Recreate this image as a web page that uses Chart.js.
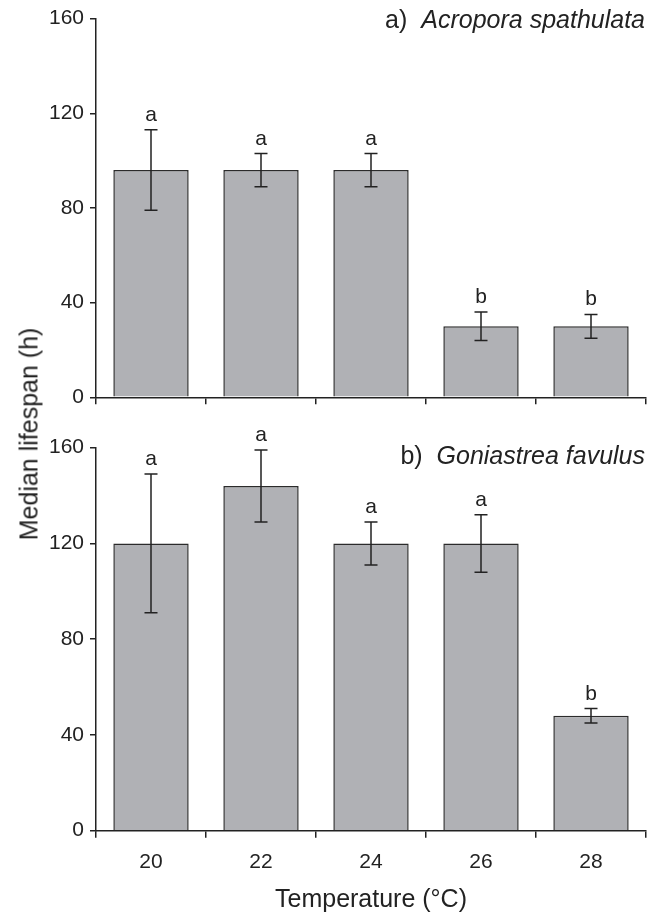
<!DOCTYPE html>
<html>
<head>
<meta charset="utf-8">
<script src="https://cdn.jsdelivr.net/npm/chart.js@4/dist/chart.umd.min.js"></script>
<style>
    body { margin: 0; background: #fff; }
    #wrap { position: relative; width: 656px; height: 918px; }
    canvas { position: absolute; left: 0; }
    #ytitle {
        position: absolute; left: 29px; top: 434px;
        transform: translate(-50%, -50%) rotate(-90deg);
        font: 25px "Liberation Sans", Arial, Helvetica, sans-serif;
        color: #222; white-space: nowrap;
    }
</style>
</head>
<body>
<div id="wrap">
    <canvas id="topChart" width="656" height="420" style="top:0"></canvas>
    <canvas id="bottomChart" width="656" height="498" style="top:420px"></canvas>
    <div id="ytitle">Median lifespan (h)</div>
</div>
<script>
// temperatures (x categories)
const temps = ["20", "22", "24", "26", "28"];
const yTicks = [0, 40, 80, 120, 160];

// a) Acropora spathulata
const spathulataMedian = [96, 96, 96, 30, 30];
const spathulataUpper = [113, 103, 103, 36, 35];
const spathulataLower = [79, 89, 89, 24, 25];
const spathulataGroups = ["a", "a", "a", "b", "b"];

// b) Goniastrea favulus
const favulusMedian = [120, 144, 120, 120, 48];
const favulusUpper = [149, 159, 129, 132, 51];
const favulusLower = [91, 129, 111, 108, 45];
const favulusGroups = ["a", "a", "a", "a", "b"];

const FONT = '"Liberation Sans", Arial, Helvetica, sans-serif';
const INK = "#222222";

// error bars + significance letters, drawn from the y scale
function errorBarPlugin(upper, lower, groups) {
    return {
        id: "errorBars",
        afterDatasetsDraw(chart) {
            const ctx = chart.ctx;
            const y = chart.scales.y;
            const bars = chart.getDatasetMeta(0).data;
            ctx.save();
            ctx.strokeStyle = INK;
            ctx.fillStyle = INK;
            ctx.lineWidth = 1.5;
            ctx.font = "21px " + FONT;
            ctx.textAlign = "center";
            ctx.textBaseline = "alphabetic";
            bars.forEach((bar, i) => {
                const top = y.getPixelForValue(upper[i]);
                const bottom = y.getPixelForValue(lower[i]);
                ctx.beginPath();
                ctx.moveTo(bar.x, top);
                ctx.lineTo(bar.x, bottom);
                ctx.moveTo(bar.x - 6.5, top);
                ctx.lineTo(bar.x + 6.5, top);
                ctx.moveTo(bar.x - 6.5, bottom);
                ctx.lineTo(bar.x + 6.5, bottom);
                ctx.stroke();
                ctx.fillText(groups[i], bar.x, top - 9);
            });
            ctx.restore();
        }
    };
}

// "a)  Species name" in the top right corner
function panelTitlePlugin(prefix, species, baseline) {
    return {
        id: "panelTitle",
        afterDraw(chart) {
            const ctx = chart.ctx;
            const right = 645;
            ctx.save();
            ctx.fillStyle = INK;
            ctx.textAlign = "right";
            ctx.textBaseline = "alphabetic";
            ctx.font = "italic 25px " + FONT;
            ctx.fillText(species, right, baseline);
            const w = ctx.measureText(species).width;
            ctx.font = "25px " + FONT;
            ctx.fillText(prefix, right - w, baseline);
            ctx.restore();
        }
    };
}

function makePanel(id, p) {
    return new Chart(document.getElementById(id), {
        type: "bar",
        data: {
            labels: temps,
            datasets: [{
                data: p.values,
                backgroundColor: "#b0b1b5",
                borderColor: "#2b2b2b",
                borderWidth: 1.5,
                barPercentage: 0.685,
                categoryPercentage: 1
            }]
        },
        options: {
            responsive: false,
            animation: false,
            layout: { padding: { top: p.padTop, right: 10, left: 0, bottom: 0 } },
            plugins: { legend: { display: false }, tooltip: { enabled: false } },
            scales: {
                x: {
                    grid: { drawOnChartArea: false, tickLength: 7, color: INK, lineWidth: 1.5, offset: true },
                    border: { color: INK, width: 1.5 },
                    ticks: {
                        display: p.showLabels,
                        color: INK,
                        font: { family: FONT, size: 21 },
                        padding: 12
                    },
                    title: {
                        display: p.showLabels,
                        text: "Temperature (°C)",
                        color: INK,
                        font: { family: FONT, size: 25 },
                        padding: { top: 0, bottom: 3 }
                    },
                    afterFit: s => { s.height = p.xHeight; }
                },
                y: {
                    min: 0,
                    max: 160,
                    afterBuildTicks: s => { s.ticks = yTicks.map(v => ({ value: v })); },
                    grid: { drawOnChartArea: false, tickLength: 6, color: INK, lineWidth: 1.5 },
                    border: { color: INK, width: 1.5 },
                    ticks: {
                        color: INK,
                        font: { family: FONT, size: 21 },
                        padding: 6
                    },
                    afterFit: s => { s.width = 96; }
                }
            }
        },
        plugins: [
            errorBarPlugin(p.upper, p.lower, p.groups),
            panelTitlePlugin(p.prefix, p.species, p.titleBaseline)
        ]
    });
}

makePanel("topChart", {
    values: spathulataMedian, upper: spathulataUpper, lower: spathulataLower,
    groups: spathulataGroups, prefix: "a)  ", species: "Acropora spathulata",
    titleBaseline: 28, padTop: 17, xHeight: 22.7, showLabels: false
});

makePanel("bottomChart", {
    values: favulusMedian, upper: favulusUpper, lower: favulusLower,
    groups: favulusGroups, prefix: "b)  ", species: "Goniastrea favulus",
    titleBaseline: 44, padTop: 27.7, xHeight: 87.3, showLabels: true
});
</script>
</body>
</html>
